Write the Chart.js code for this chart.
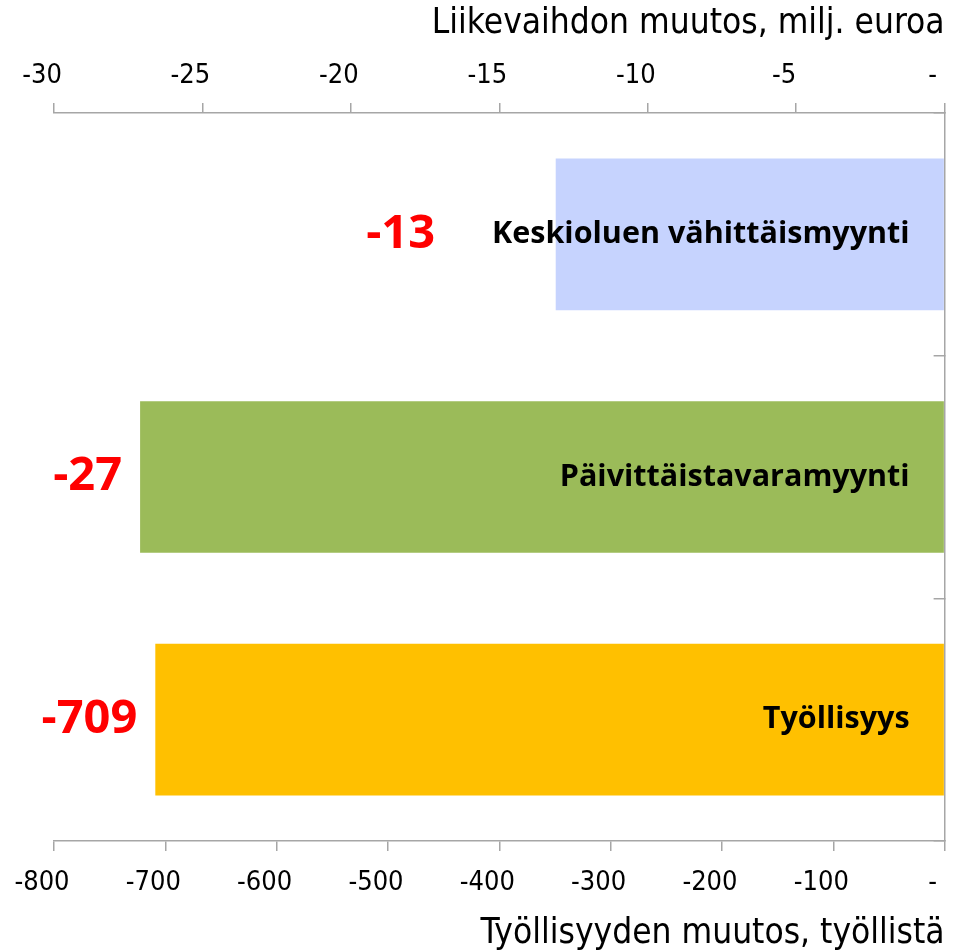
<!DOCTYPE html>
<html>
<head>
<meta charset="utf-8">
<script src="https://cdn.jsdelivr.net/npm/chart.js@4"></script>
<style>
  html, body { margin: 0; padding: 0; background: #ffffff; }
  #wrap { width: 965px; height: 951px; position: relative; }
</style>
</head>
<body>
<div id="wrap"><canvas id="c" width="965" height="951"></canvas></div>
<script>
// ---- data ----
const categories = ['Keskioluen vähittäismyynti', 'Päivittäistavaramyynti', 'Työllisyys'];
const salesChange = [-13.1, -27.1, null];        // Liikevaihdon muutos, milj. euroa (top axis)
const employmentChange = [null, null, -709];     // Työllisyyden muutos, työllistä (bottom axis)
const valueLabels = ['-13', '-27', '-709'];
const barColors = ['#C6D3FE', '#9BBB59', '#FFC000'];
const salesAxisTitle = 'Liikevaihdon muutos, milj. euroa';
const employmentAxisTitle = 'Työllisyyden muutos, työllistä';
const salesRange = [-30, 0];
const employmentRange = [-800, 0];
const salesStep = 5;
const employmentStep = 100;
const zeroTickLabel = '-';

const axisGray = '#A6A6A6';
const condensed = '"DejaVu Sans Condensed", "DejaVu Sans", sans-serif';
const tickFont = { family: condensed, size: 27 };
const titleFont = { family: condensed, size: 35, lineHeight: 1 };

const labelPlugin = {
  id: 'barLabels',
  afterDatasetsDraw(chart) {
    const ctx = chart.ctx;
    const area = chart.chartArea;
    ctx.save();
    categories.forEach((cat, i) => {
      let bar = null;
      chart.data.datasets.forEach((ds, di) => {
        if (ds.data[i] !== null && ds.data[i] !== undefined) {
          bar = chart.getDatasetMeta(di).data[i];
        }
      });
      if (!bar) return;
      const yc = bar.y;
      const barLeft = Math.min(bar.x, bar.base);
      // category name, right-aligned inside bar
      ctx.font = 'bold 30.5px "Open Sans", "Noto Sans", sans-serif';
      ctx.fillStyle = '#000000';
      ctx.textAlign = 'right';
      ctx.textBaseline = 'middle';
      const catRight = area.right - 35;
      ctx.fillText(cat, catRight, yc);
      const catLeft = catRight - ctx.measureText(cat).width;
      // value label, red, to the left of the bar (avoiding category text)
      ctx.font = 'bold 47px "Open Sans", "Noto Sans", sans-serif';
      ctx.fillStyle = '#FF0000';
      const vx = Math.min(barLeft - 18, catLeft - 57);
      ctx.fillText(valueLabels[i], vx, yc);
    });
    ctx.restore();
  }
};

const tickCb = (v) => (v === 0 ? zeroTickLabel : String(v));

new Chart(document.getElementById('c'), {
  type: 'bar',
  data: {
    labels: categories,
    datasets: [
      {
        label: salesAxisTitle,
        data: salesChange,
        xAxisID: 'xTop',
        backgroundColor: barColors,
        borderWidth: 0,
        grouped: false,
        barPercentage: 0.625,
        categoryPercentage: 1
      },
      {
        label: employmentAxisTitle,
        data: employmentChange,
        xAxisID: 'xBottom',
        backgroundColor: barColors,
        borderWidth: 0,
        grouped: false,
        barPercentage: 0.625,
        categoryPercentage: 1
      }
    ]
  },
  options: {
    indexAxis: 'y',
    responsive: false,
    animation: false,
    devicePixelRatio: 1,
    layout: { padding: { left: 54, right: 0, top: 0, bottom: 0 } },
    plugins: {
      legend: { display: false },
      tooltip: { enabled: false }
    },
    scales: {
      xTop: {
        type: 'linear',
        position: 'top',
        min: salesRange[0],
        max: salesRange[1],
        ticks: { stepSize: salesStep, callback: tickCb, font: tickFont, color: '#000000', padding: 11, maxRotation: 0, labelOffset: -12 },
        grid: { drawOnChartArea: false, drawTicks: true, tickLength: 10, color: axisGray, lineWidth: 1.5 },
        border: { display: true, color: axisGray, width: 1.5 },
        title: { display: true, text: salesAxisTitle, align: 'end', font: titleFont, color: '#000000', padding: { top: 6, bottom: 0 } },
        afterFit(scale) { scale.height = 113; }
      },
      xBottom: {
        type: 'linear',
        position: 'bottom',
        min: employmentRange[0],
        max: employmentRange[1],
        ticks: { stepSize: employmentStep, callback: tickCb, font: tickFont, color: '#000000', padding: 16, maxRotation: 0, labelOffset: -12 },
        grid: { drawOnChartArea: false, drawTicks: true, tickLength: 10, color: axisGray, lineWidth: 1.5 },
        border: { display: true, color: axisGray, width: 1.5 },
        title: { display: true, text: employmentAxisTitle, align: 'end', font: titleFont, color: '#000000', padding: { top: 0, bottom: 0 } },
        afterFit(scale) { scale.height = 110; }
      },
      y: {
        type: 'category',
        position: 'right',
        offset: true,
        ticks: { display: false },
        grid: { drawOnChartArea: false, drawTicks: true, tickLength: -11, offset: true, color: axisGray, lineWidth: 1.5 },
        border: { display: true, color: axisGray, width: 1.5 },
        afterFit(scale) { scale.width = 20; }
      }
    }
  },
  plugins: [labelPlugin]
});
</script>
</body>
</html>
